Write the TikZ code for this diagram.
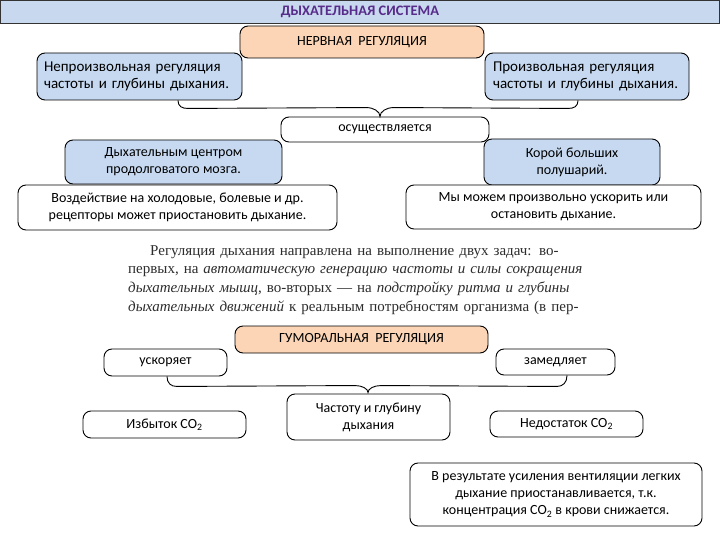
\documentclass[tikz,border=0pt]{standalone}
\usepackage{fontspec}
\setmainfont{Carlito}
\newfontfamily\scanfont{Liberation Serif}
\usetikzlibrary{calc}
\definecolor{boxblue}{RGB}{198,217,241}
\definecolor{peach}{RGB}{251,213,181}
\definecolor{headblue}{RGB}{200,216,238}
\definecolor{titlepurple}{RGB}{88,44,138}
\definecolor{scan}{RGB}{45,45,45}
\begin{document}
\begin{tikzpicture}[x=1pt,y=-1pt,
  box/.style={draw=black, line width=0.9pt, rounded corners=8pt, inner sep=0pt, align=center,
    font=\fontsize{14}{17}\selectfont},
  bluebox/.style={box, fill=boxblue},
  peachbox/.style={box, fill=peach},
  whitebox/.style={box, fill=white},
  bigtext/.style={font=\fontsize{15}{17.5}\selectfont},
  bracepath/.style={draw=black, line width=0.9pt}
]
\useasboundingbox (0,0) rectangle (720,540);
\fill[white] (0,0) rectangle (720,540);

% header
\node[draw=black!80, line width=1pt, fill=headblue, minimum width=719pt, minimum height=23.5pt, inner sep=0pt,
  font=\bfseries\fontsize{14.5}{16}\selectfont, text=titlepurple] (title) at (360,12) {ДЫХАТЕЛЬНАЯ СИСТЕМА};

% nervous regulation
\node[peachbox, minimum width=244pt, minimum height=32pt] (nerv) at (362,42) {НЕРВНАЯ \ РЕГУЛЯЦИЯ};
\node[bluebox, bigtext, minimum width=205pt, minimum height=47pt, text width=191pt, align=left] (left) at (139.5,76.5)
  {Непроизвольная регуляция\\частоты и глубины дыхания.};
\node[bluebox, bigtext, minimum width=204pt, minimum height=47pt, text width=188pt, align=left] (right) at (587,76.5)
  {Произвольная регуляция\\частоты и глубины дыхания.};
\node[whitebox, minimum width=208pt, minimum height=25pt] (osush) at (385,129.5) {осуществляется};
\node[bluebox, minimum width=217pt, minimum height=44pt] (dyh) at (173.5,162)
  {Дыхательным центром\\продолговатого мозга.};
\node[bluebox, minimum width=176pt, minimum height=46pt] (kor) at (572,162)
  {Корой больших\\полушарий.};
\node[whitebox, minimum width=319pt, minimum height=45pt] (vozd) at (177.5,207.5)
  {Воздействие на холодовые, болевые и др.\\рецепторы может приостановить дыхание.};
\node[whitebox, minimum width=295pt, minimum height=44pt] (my) at (553.5,207)
  {Мы можем произвольно ускорить или\\остановить дыхание.};

% brace 1
\coordinate (A) at ($(left.south)+(38.5,0)$);
\coordinate (T) at ($(osush.north)+(-5,0)$);
\coordinate (B) at ($(right.south)+(-9,0)$);
\draw[bracepath] (A) .. controls ($(A)+(0,6)$) and ($(A)+(4,8)$) .. ($(A)+(10,8)$)
  -- ($(T)+(-14,-9)$) .. controls ($(T)+(-6,-9)$) and ($(T)+(0,-5)$) .. (T)
  .. controls ($(T)+(0,-5)$) and ($(T)+(6,-9)$) .. ($(T)+(14,-9)$)
  -- ($(B)+(-10,8)$) .. controls ($(B)+(-4,8)$) and ($(B)+(0,6)$) .. (B);

% scanned paragraph
\node[anchor=north west, inner sep=0pt, text width=477pt, align=left, text=scan,
  font=\scanfont\fontsize{15}{18.7}\selectfont] (para) at (128,245)
{\hspace*{22pt}\makebox[455pt][s]{Регуляция дыхания направлена на выполнение двух задач: во-}\\
 \makebox[477pt][s]{первых, на \textit{автоматическую генерацию частоты и силы сокращения}}\\
 \makebox[477pt][s]{\textit{дыхательных мышц}, во-вторых — на \textit{подстройку ритма и глубины}}\\
 \makebox[477pt][s]{\textit{дыхательных движений} к реальным потребностям организма (в пер-}};

% humoral regulation
\node[peachbox, minimum width=253pt, minimum height=27pt] (gum) at (361.5,339.5) {ГУМОРАЛЬНАЯ \ РЕГУЛЯЦИЯ};
\node[whitebox, minimum width=123pt, minimum height=27pt] (usk) at (165.5,362.5) {ускоряет};
\node[whitebox, minimum width=119pt, minimum height=26pt] (zam) at (555.5,362) {замедляет};
\node[whitebox, minimum width=163pt, minimum height=27pt] (izb) at (164.5,424.5) {Избыток CO\textsubscript{2}};
\node[whitebox, minimum width=163pt, minimum height=46pt] (chast) at (368.5,417) {Частоту и глубину\\дыхания};
\node[whitebox, minimum width=153pt, minimum height=26pt] (ned) at (566.5,424) {Недостаток CO\textsubscript{2}};
\node[whitebox, minimum width=292pt, minimum height=63pt] (rez) at (556,494.5)
  {В результате усиления вентиляции легких\\дыхание приостанавливается, т.к.\\концентрация CO\textsubscript{2} в крови снижается.};

% brace 2
\coordinate (A2) at ($(usk.south)+(1.5,0)$);
\coordinate (T2) at ($(chast.north)+(-0.5,-1)$);
\coordinate (B2) at ($(zam.south)+(11.5,0)$);
\draw[bracepath] (A2) .. controls ($(A2)+(0,7)$) and ($(A2)+(4,10)$) .. ($(A2)+(10,10)$)
  -- ($(T2)+(-13,-7)$) .. controls ($(T2)+(-6,-7)$) and ($(T2)+(0,-4)$) .. (T2)
  .. controls ($(T2)+(0,-4)$) and ($(T2)+(6,-7)$) .. ($(T2)+(13,-7)$)
  -- ($(B2)+(-10,11)$) .. controls ($(B2)+(-4,11)$) and ($(B2)+(0,7)$) .. (B2);
\end{tikzpicture}
\end{document}
